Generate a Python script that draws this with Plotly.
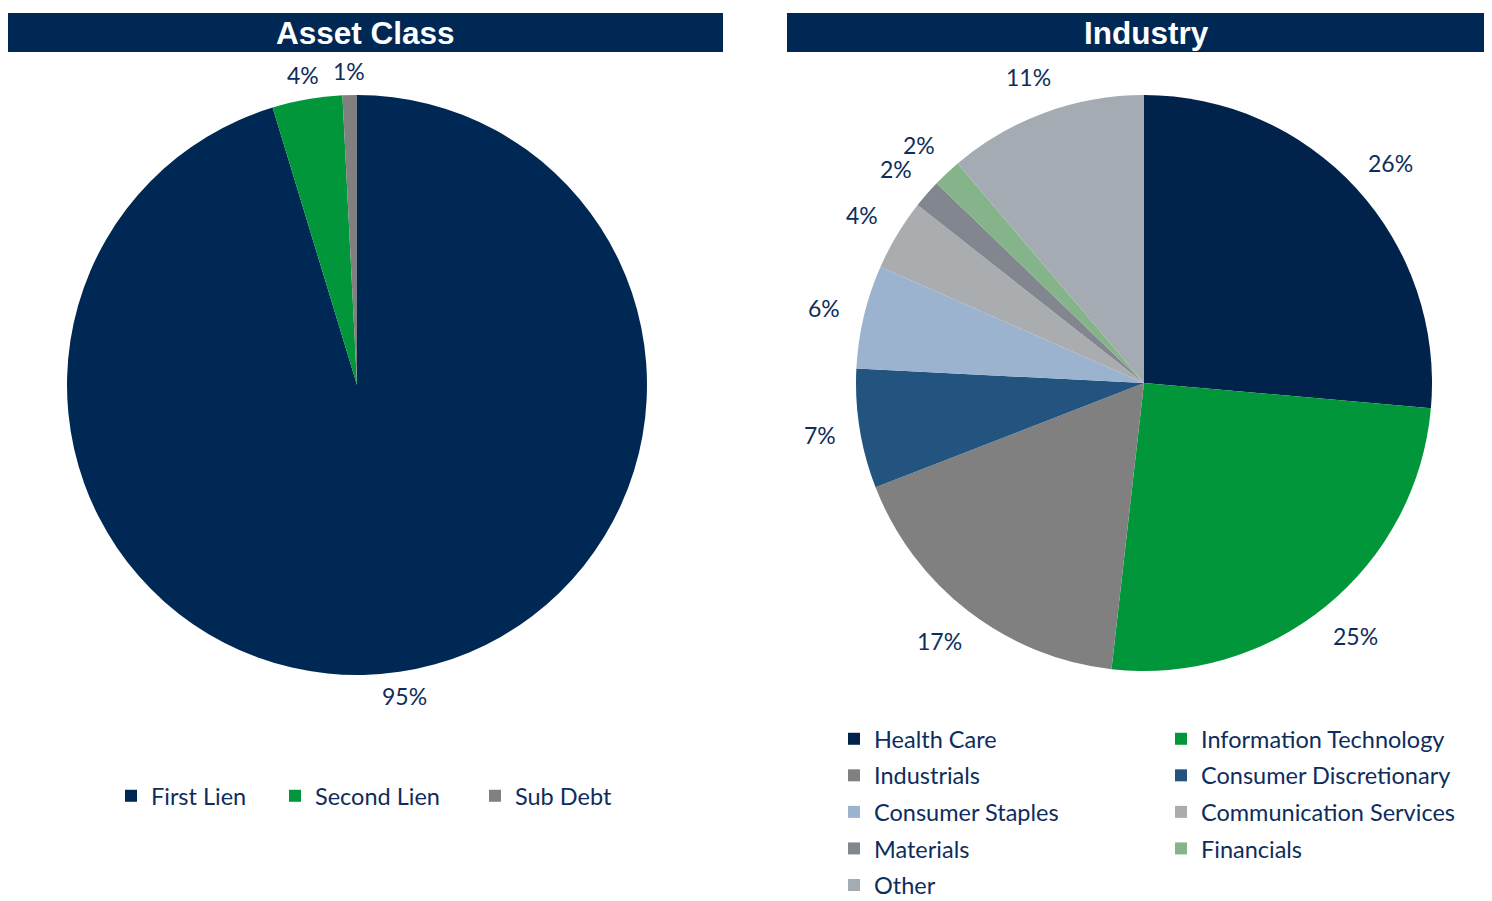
import math
import plotly.graph_objects as go

# ---- data ----
asset_labels = ["First Lien", "Second Lien", "Sub Debt"]
asset_values = [95.3, 3.9, 0.8]
asset_colors = ["#002855", "#009639", "#808080"]

industry_labels = ["Health Care", "Information Technology", "Industrials",
                   "Consumer Discretionary", "Consumer Staples",
                   "Communication Services", "Materials", "Financials", "Other"]
industry_values = [26.4, 25.4, 17.3, 6.7, 5.8, 4.0, 1.6, 1.6, 11.2]
industry_colors = ["#00224B", "#009639", "#808080", "#22547F", "#9BB3CF",
                   "#AAADB0", "#82868F", "#86B48A", "#A4ABB3"]

legend_col1 = ["Health Care", "Industrials", "Consumer Staples", "Materials", "Other"]
legend_col2 = ["Information Technology", "Consumer Discretionary",
               "Communication Services", "Financials"]

panel_titles = ["Asset Class", "Industry"]

# the page body has an 8px margin; the figure starts at (8, 8) in the window
OFF = 8
W, H = 1492 - OFF, 901 - OFF
TXT = "#0E2D5C"
FONT = "Lato, 'Open Sans', sans-serif"
LABEL_SIZE = 23


def fx(sx):
    return (sx - OFF) / W


def fy(sy):
    return 1 - (sy - OFF) / H


# pie geometry (window pixels)
pies = [
    dict(cx=357, cy=385, r=290, gap=14),
    dict(cx=1144, cy=383, r=288, gap=28),
]

fig = go.Figure()


def add_pie(labels, values, colors, geo):
    fig.add_trace(go.Pie(
        labels=labels, values=values,
        marker=dict(colors=colors, line=dict(width=0)),
        sort=False, direction="clockwise", rotation=0,
        textposition="none", hoverinfo="label+percent", showlegend=False,
        domain=dict(x=[fx(geo["cx"] - geo["r"]), fx(geo["cx"] + geo["r"])],
                    y=[fy(geo["cy"] + geo["r"]), fy(geo["cy"] - geo["r"])])))
    # percentage labels placed just outside each slice, along its mid angle
    total = sum(values)
    acc = 0.0
    for v in values:
        theta = 2 * math.pi * (acc + v / 2) / total
        acc += v
        txt = "%d%%" % round(100 * v / total)
        half_w = 0.27 * LABEL_SIZE * len(txt)
        half_h = 0.45 * LABEL_SIZE
        rr = geo["r"] + geo["gap"]
        sx = geo["cx"] + (rr + half_w) * math.sin(theta)
        sy = geo["cy"] - (rr + half_h) * math.cos(theta)
        fig.add_annotation(text=txt, xref="paper", yref="paper",
                           x=fx(sx), y=fy(sy), showarrow=False,
                           xanchor="center", yanchor="middle",
                           font=dict(family=FONT, size=LABEL_SIZE, color=TXT))


add_pie(asset_labels, asset_values, asset_colors, pies[0])
add_pie(industry_labels, industry_values, industry_colors, pies[1])


def legend_entry(name, color, legend, group, width=None):
    fig.add_trace(go.Scatter(
        x=[None], y=[None], mode="markers", name=name,
        marker=dict(symbol="square", size=12, color=color),
        legend=legend, legendgroup=group, showlegend=True,
        legendwidth=width,
    ))


asset_widths = [119, 155, 100]
for i, name in enumerate(asset_labels):
    legend_entry(name, asset_colors[i], "legend", "c%d" % i, asset_widths[i])

cmap = dict(zip(industry_labels, industry_colors))
for i, name in enumerate(legend_col1):
    legend_entry(name, cmap[name], "legend2", "a%d" % i)
for i, name in enumerate(legend_col2):
    legend_entry(name, cmap[name], "legend3", "b%d" % i)

# title bars
bars = [(8, 723), (787, 1492)]
title_x = [365, 1146]
for (x0, x1), tx, t in zip(bars, title_x, panel_titles):
    fig.add_shape(type="rect", xref="paper", yref="paper",
                  x0=fx(x0), x1=fx(x1), y0=fy(52), y1=fy(13),
                  fillcolor="#002855", line=dict(width=0), layer="below")
    fig.add_annotation(text="<b>%s</b>" % t, xref="paper", yref="paper",
                       x=fx(tx), y=fy(33), showarrow=False,
                       xanchor="center", yanchor="middle",
                       font=dict(family="Liberation Sans, Arial, sans-serif",
                                 size=31.5, color="white"))

legend_font = dict(family=FONT, size=23.5, color=TXT)
common = dict(font=legend_font, bgcolor="rgba(0,0,0,0)", itemwidth=30,
              itemclick=False, itemdoubleclick=False)
fig.update_layout(
    width=W, height=H,
    margin=dict(l=0, r=0, t=0, b=0, autoexpand=False),
    paper_bgcolor="white", plot_bgcolor="white",
    xaxis=dict(visible=False), yaxis=dict(visible=False),
    legend=dict(orientation="h", x=fx(111), y=fy(796), xanchor="left",
                yanchor="middle", **common),
    legend2=dict(orientation="v", x=fx(834), y=fy(717), xanchor="left",
                 yanchor="top", tracegroupgap=3, **common),
    legend3=dict(orientation="v", x=fx(1161), y=fy(717), xanchor="left",
                 yanchor="top", tracegroupgap=3, **common),
)

fig.write_html("out.html")
